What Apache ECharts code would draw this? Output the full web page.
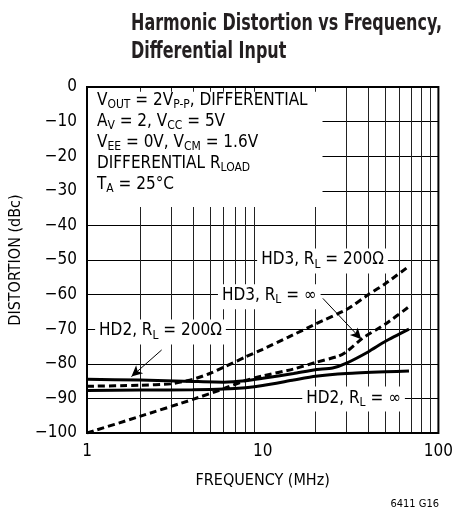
<!DOCTYPE html>
<html><head><meta charset="utf-8">
<script src="https://cdn.jsdelivr.net/npm/echarts@6/dist/echarts.min.js"></script>
<style>html,body{margin:0;padding:0;background:#fff}#c{width:456px;height:512px}</style>
</head><body><div id="c"></div>
<script>
const FONT = "'Liberation Sans Narrow','Arial Narrow','DejaVu Sans Condensed',sans-serif";

// axis ticks
const yTicks = [0, -10, -20, -30, -40, -50, -60, -70, -80, -90, -100];
const xTickLabels = [1, 10, 100];
const minorFreqs = [2, 3, 4, 5, 6, 7, 8, 9, 20, 30, 40, 50, 60, 70, 80, 90];

// HD2, RL = 200 ohm (solid)
const hd2_200_f  = [1, 2, 4, 6, 8, 10, 15, 20, 25, 30, 40, 50, 68];
const hd2_200_db = [-84.5, -84.7, -85.1, -85.3, -84.9, -84.2, -82.8, -81.7, -81.2, -79.8, -76.5, -73.5, -70];
// HD2, RL = inf (solid)
const hd2_inf_f  = [1, 2, 4, 6, 8, 10, 15, 20, 30, 50, 68];
const hd2_inf_db = [-87.7, -87.6, -87.5, -87.3, -86.9, -86.3, -84.7, -83.6, -82.8, -82.3, -82.1];
// HD3, RL = 200 ohm (dashed)
const hd3_200_f  = [1, 2, 3, 4, 5, 6, 8, 10, 14, 20, 30, 40, 50, 68];
const hd3_200_db = [-86.5, -86.2, -85.8, -84.5, -82.8, -81, -78, -75.8, -72.3, -68.5, -64.3, -60, -56.8, -51.8];
// HD3, RL = inf (dashed)
const hd3_inf_f  = [1, 2, 4, 6, 8, 10, 15, 20, 27, 30, 37, 50, 68];
const hd3_inf_db = [-100, -95.2, -90.3, -87.2, -84.8, -83.5, -81.5, -79.6, -77.8, -76.5, -72.6, -68.5, -63.5];

// curve labels: [freq, dB, text]
const curveLabels = [
  [21.9, -50.3, '{n|HD3, R}{s|L}{n| = 200Ω}'],
  [10.9, -60.6, '{n|HD3, R}{s|L}{n| = ∞}'],
  [2.62, -70.8, '{n|HD2, R}{s|L}{n| = 200Ω}'],
  [32.9, -90.2, '{n|HD2, R}{s|L}{n| = ∞}']
];
// arrows: [[fromF, fromDb], [toF, toDb]]
const arrows = [
  [[2.66, -76.0], [1.79, -83.7]],
  [[22.0, -61.1], [36.4, -72.9]]
];

const zip = (a, b) => a.map((v, i) => [v, b[i]]);
const minus = s => String(s).replace('-', '\u2212');

const rich = {
  n: { fontSize: 17, fontFamily: FONT, color: '#000', lineHeight: 21 },
  s: { fontSize: 12, fontFamily: FONT, color: '#000', lineHeight: 10, verticalAlign: 'bottom' }
};

function curve(name, f, db, dashed) {
  return {
    name, type: 'line', data: zip(f, db), showSymbol: false, symbol: 'none', z: 3,
    smooth: 0.2,
    lineStyle: { color: '#000', width: 3, type: dashed ? [7, 4] : 'solid', cap: 'butt' }
  };
}

// title width fit
const TITLE1 = 'Harmonic Distortion vs Frequency,';
const TITLE2 = 'Differential Input';
const mctx = document.createElement('canvas').getContext('2d');
mctx.font = 'bold 23px ' + FONT;
const titleScale = 311 / mctx.measureText(TITLE1).width;

const chart = echarts.init(document.getElementById('c'), null, { renderer: 'canvas' });
chart.setOption({
  animation: false,
  backgroundColor: '#fff',
  grid: { left: 87, right: 16, top: 87, bottom: 79, show: true, z: 10,
          borderColor: '#000', borderWidth: 2, backgroundColor: 'rgba(0,0,0,0)' },
  xAxis: {
    type: 'log', logBase: 10, min: 1, max: 100,
    axisLine: { show: false }, axisTick: { show: false }, splitLine: { show: false },
    minorTick: { show: false }, minorSplitLine: { show: false },
    axisLabel: { fontFamily: FONT, fontSize: 17, color: '#000', margin: 10,
                 formatter: v => (xTickLabels.indexOf(Math.round(v)) >= 0 ? String(Math.round(v)) : '') },
    name: 'FREQUENCY (MHz)', nameLocation: 'middle', nameGap: 40,
    nameTextStyle: { fontFamily: FONT, fontSize: 16, color: '#000' }
  },
  yAxis: {
    type: 'value', min: yTicks[yTicks.length - 1], max: yTicks[0], interval: 10,
    axisLine: { show: false }, axisTick: { show: false },
    splitLine: { show: true, lineStyle: { color: '#000', width: 1 } },
    axisLabel: { fontFamily: FONT, fontSize: 17, color: '#000', margin: 10,
                 formatter: v => minus(v) },
    name: 'DISTORTION (dBc)', nameLocation: 'middle', nameGap: 31,
    nameTextStyle: { fontFamily: FONT, fontSize: 16, color: '#000' }
  },
  series: [
    {
      type: 'line', data: [], z: 1,
      markLine: {
        z: 1, silent: true, symbol: 'none', label: { show: false },
        lineStyle: { color: '#222', width: 1, type: 'solid' },
        data: minorFreqs.map(f => ({ xAxis: f }))
      },
      markArea: {
        z: 2, silent: true, itemStyle: { color: '#fff', opacity: 1 },
        data: [[{ coord: [1, -1.4] }, { coord: [21.9, -34.7] }]]
      }
    },
    curve('HD2 200', hd2_200_f, hd2_200_db, false),
    curve('HD2 inf', hd2_inf_f, hd2_inf_db, false),
    curve('HD3 200', hd3_200_f, hd3_200_db, true),
    curve('HD3 inf', hd3_inf_f, hd3_inf_db, true),
    {
      type: 'line', data: [], z: 4,
      markLine: {
        z: 4, silent: true, symbol: ['none', 'arrow'], symbolSize: [8, 11], label: { show: false },
        lineStyle: { color: '#000', width: 1, type: 'solid' },
        data: arrows.map(a => [{ coord: a[0] }, { coord: a[1] }])
      }
    }
  ]
});

const labelGraphics = curveLabels.map(l => {
  const p = chart.convertToPixel({ xAxisIndex: 0, yAxisIndex: 0 }, [l[0], l[1]]);
  return {
    type: 'text', x: p[0], y: p[1], z: 15,
    style: { text: l[2], rich, align: 'center', verticalAlign: 'middle',
             backgroundColor: '#fff', padding: [1, 4, 3, 4] }
  };
});

chart.setOption({
  graphic: [
    {
      type: 'text', x: 131, y: 10, z: 20, scaleX: titleScale,
      style: { text: TITLE1 + '\n' + TITLE2, fontFamily: FONT, fontSize: 23, fontWeight: 'bold',
               fill: '#231f20', lineHeight: 28, align: 'left', verticalAlign: 'top' }
    },
    {
      type: 'text', left: 97, top: 92, z: 20,
      style: {
        text: '{n|V}{s|OUT}{n| = 2V}{s|P-P}{n|, DIFFERENTIAL}\n' +
              '{n|A}{s|V}{n| = 2, V}{s|CC}{n| = 5V}\n' +
              '{n|V}{s|EE}{n| = 0V, V}{s|CM}{n| = 1.6V}\n' +
              '{n|DIFFERENTIAL R}{s|LOAD}\n' +
              '{n|T}{s|A}{n| = 25°C}',
        rich
      }
    },
    {
      type: 'text', right: 17, bottom: 2, z: 20,
      style: { text: '6411 G16', fontFamily: FONT, fontSize: 11, fill: '#000' }
    }
  ].concat(labelGraphics)
});
</script></body></html>
